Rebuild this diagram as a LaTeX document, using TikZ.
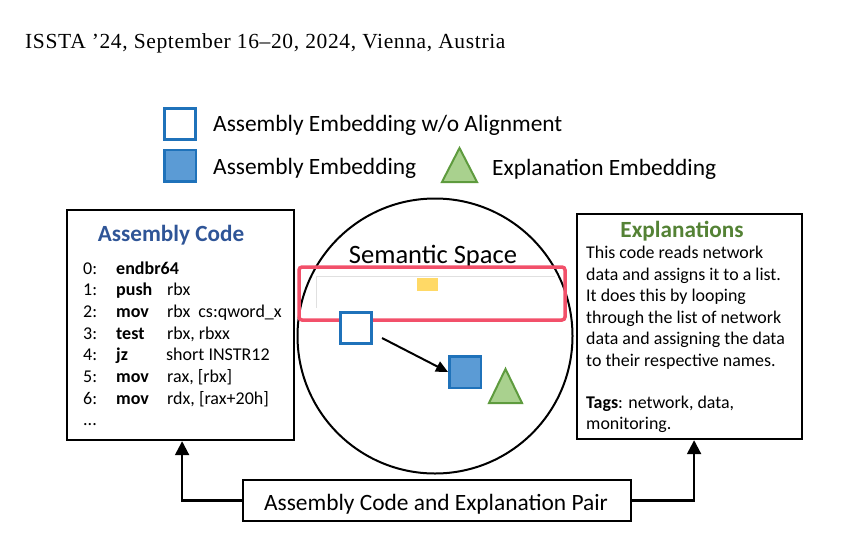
\documentclass[tikz,border=0pt]{standalone}
\usepackage{fontspec}
\setmainfont{Carlito}
\newfontfamily\hdrfont[LetterSpace=3]{Liberation Serif}
\usetikzlibrary{arrows.meta,calc}
\definecolor{embblue}{HTML}{1F72BA}
\definecolor{embfill}{HTML}{5B9BD5}
\definecolor{trifill}{HTML}{A9D18E}
\definecolor{tridraw}{HTML}{5E9B3E}
\definecolor{titleblue}{HTML}{2F5597}
\definecolor{titlegreen}{HTML}{548235}
\definecolor{hlred}{HTML}{F2506A}
\definecolor{hlyellow}{HTML}{FFD966}
\tikzset{
  boxstyle/.style={draw=black, line width=2.2pt, inner sep=0pt},
  emptysq/.style={draw=embblue, line width=3pt, fill=white, minimum size=31pt, inner sep=0pt},
  fullsq/.style={draw=embblue, line width=2.5pt, fill=embfill, minimum size=31.5pt, inner sep=0pt},
  tri/.style={draw=tridraw, line width=2pt, fill=trifill, line join=miter},
  legtxt/.style={anchor=base west, inner sep=0pt, font=\fontsize{23.4}{28}\selectfont},
  codetxt/.style={anchor=base west, inner sep=0pt, font=\fontsize{18}{21}\selectfont},
  opctxt/.style={codetxt, font=\fontsize{18}{21}\selectfont\bfseries},
  expltxt/.style={anchor=base west, inner sep=0pt, font=\fontsize{17.9}{21}\selectfont},
  titletxt/.style={anchor=base, inner sep=0pt, font=\fontsize{23.2}{28}\selectfont\bfseries},
  bigarrow/.style={draw=black, line width=2.2pt, -{Triangle[length=14pt,width=14pt]}},
  smallarrow/.style={draw=black, line width=2pt, -{Triangle[length=12pt,width=11pt]}},
}
\begin{document}
\begin{tikzpicture}[x=1pt,y=-1pt]
\useasboundingbox (0,0) rectangle (846,544);
% header
\node[anchor=base west, inner sep=0pt, font=\hdrfont\fontsize{21.5}{24}\selectfont] (hdr) at (25,48) {ISSTA ’24, September 16–20, 2024, Vienna, Austria};
% legend
\node[emptysq] (legempty) at (180,123.5) {};
\node[legtxt] (legemptytxt) at (213,131) {Assembly Embedding w/o Alignment};
\node[fullsq] (legfull) at (180,165.5) {};
\node[legtxt] (legfulltxt) at (213,174) {Assembly Embedding};
\draw[tri] (442,182) -- (459.5,148) -- (477,182) -- cycle;
\node[legtxt] (legtritxt) at (492,175) {Explanation Embedding};
% assembly code box
\node[boxstyle, anchor=north west, minimum width=227pt, minimum height=230pt] (code) at (66,209) {};
\node[titletxt, text=titleblue] (codetitle) at (171,241) {Assembly Code};
\node[codetxt] (n0) at (83,274) {0:};
\node[opctxt] (o0) at (116,274) {endbr64};
\node[codetxt] (n1) at (83,295.7) {1:};
\node[opctxt] (o1) at (116,295.7) {push};
\node[codetxt] (a1) at (167,295.7) {rbx};
\node[codetxt] (n2) at (83,317.4) {2:};
\node[opctxt] (o2) at (116,317.4) {mov};
\node[codetxt] (a2) at (167,317.4) {rbx\hspace{8pt}cs:qword\_x};
\node[codetxt] (n3) at (83,339) {3:};
\node[opctxt] (o3) at (116,339) {test};
\node[codetxt] (a3) at (167,339) {rbx, rbxx};
\node[codetxt] (n4) at (83,360.7) {4:};
\node[opctxt] (o4) at (116,360.7) {jz};
\node[codetxt] (a4) at (166,360.7) {short INSTR12};
\node[codetxt] (n5) at (83,382.4) {5:};
\node[opctxt] (o5) at (116,382.4) {mov};
\node[codetxt] (a5) at (167,382.4) {rax, [rbx]};
\node[codetxt] (n6) at (83,404) {6:};
\node[opctxt] (o6) at (116,404) {mov};
\node[codetxt] (a6) at (167,404) {rdx, [rax+20h]};
\node[codetxt] (n7) at (83,425.5) {...};
% semantic space
\node[circle, draw=black, line width=2pt, minimum size=275pt, inner sep=0pt] (space) at (435,336) {};
\node[anchor=base, inner sep=0pt, font=\fontsize{26.5}{30}\selectfont] (spacetitle) at (433,263) {Semantic Space};
\draw[black!12, line width=1pt] (316,308) -- (316,276) -- (555,276);
\fill[hlyellow] (417,278) rectangle (438,291);
\draw[hlred, line width=3.5pt, rounded corners=3pt] (299,267) rectangle (565,320);
\node[emptysq] (e0) at (356,328) {};
\node[fullsq] (e1) at (465,372) {};
\draw[tri] (489,403) -- (505.5,369) -- (522,403) -- cycle;
\draw[smallarrow] ($(e0.south east)+(9,-7)$) -- (e1.west);
% explanations box
\node[boxstyle, anchor=north west, minimum width=225pt, minimum height=225pt] (expl) at (576,213) {};
\node[titletxt, text=titlegreen] (expltitle) at (682,237) {Explanations};
\node[expltxt] (l1) at (586,258.5) {This code reads network};
\node[expltxt] (l2) at (586,280) {data and assigns it to a list.};
\node[expltxt] (l3) at (586,301.5) {It does this by looping};
\node[expltxt] (l4) at (586,323) {through the list of network};
\node[expltxt] (l5) at (586,344.5) {data and assigning the data};
\node[expltxt] (l6) at (586,366) {to their respective names.};
\node[expltxt] (l7) at (586,408) {\textbf{Tags}: network, data,};
\node[expltxt] (l8) at (586,429.5) {monitoring.};
% pair box
\node[boxstyle, minimum width=388pt, minimum height=41pt] (pair) at (437,500.5) {};
\node[legtxt, anchor=base] (pairtxt) at (436,510) {Assembly Code and Explanation Pair};
\draw[bigarrow] (pair.west) -| ([xshift=1.5pt]code.south);
\draw[bigarrow] (pair.east) -| ([xshift=4.5pt]expl.south);
\end{tikzpicture}
\end{document}
